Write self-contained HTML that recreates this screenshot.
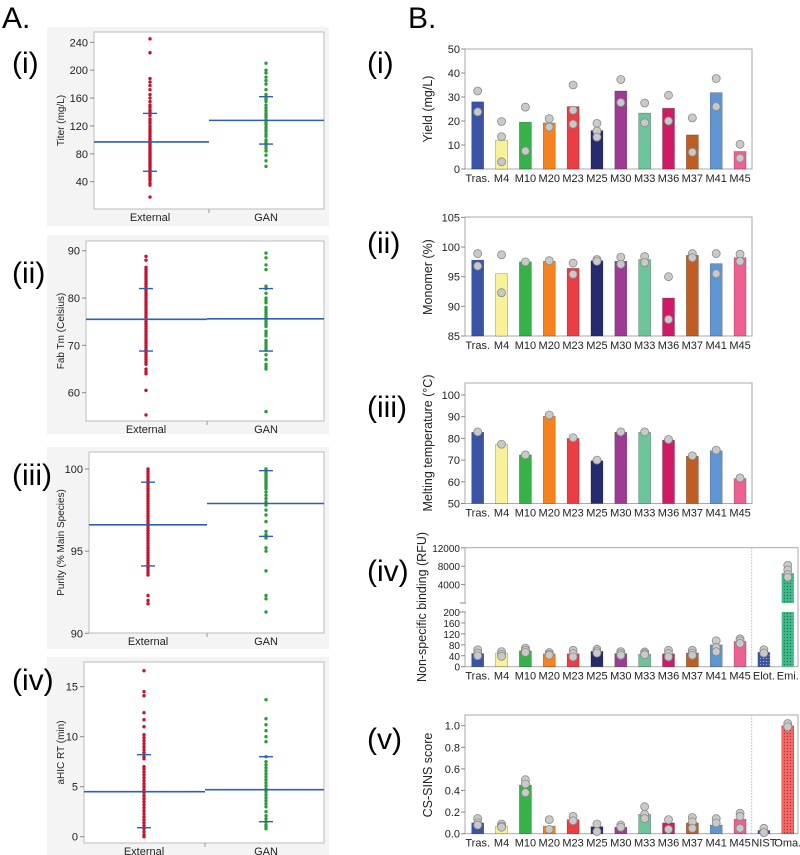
<!DOCTYPE html>
<html><head><meta charset="utf-8"><style>
body{margin:0;background:#fff}
svg{display:block;font-family:"Liberation Sans",sans-serif}
</style></head><body>
<svg id="fig" width="800" height="855" viewBox="0 0 800 855" xmlns="http://www.w3.org/2000/svg">
<defs>
<pattern id="dotB" width="3" height="3" patternUnits="userSpaceOnUse"><rect width="3" height="3" fill="#3a53a4"/><circle cx="1.5" cy="1.5" r="0.6" fill="#9fb0e0"/></pattern>
<pattern id="dotG" width="3" height="3" patternUnits="userSpaceOnUse"><rect width="3" height="3" fill="#3fb88a"/><circle cx="1.5" cy="1.5" r="0.6" fill="#1f6f50"/></pattern>
<pattern id="dotR" width="3" height="3" patternUnits="userSpaceOnUse"><rect width="3" height="3" fill="#f26868"/><circle cx="1.5" cy="1.5" r="0.6" fill="#b02a2a"/></pattern>
</defs>
<text x="2" y="28" font-size="30">A.</text>
<text x="408" y="28" font-size="30">B.</text>
<g id="left"></g><g id="right"></g>
</svg>
<script>
// ---------- Panel A data ----------
const groupsA = ["External","GAN"];
const titerExt = [245,225,188,183,178,172,165,160,155,150,147,143,140,138,135,130,127,124,120,117,114,111,108,105,102,100,98,96,94,92,90,88,86,84,82,80,78,76,74,72,70,68,66,64,62,60,58,56,54,52,50,48,46,44,42,38,35,18];
const titerGan = [210,200,196,190,185,180,172,165,160,158,155,150,146,142,138,135,132,128,125,122,118,115,112,108,105,100,97,95,92,88,84,78,70,62];
const titerStats = [[97,138,55],[128,162,94]];
const tmExt = [88.8,88,86.5,86,85.5,85,84.5,84,83.5,83,82.5,82,81.5,81,80.5,80,79.5,79,78.5,78,77.5,77,76.5,76,75.5,75,74.5,74,73.5,73,72.5,72,71.5,71,70.5,70,69.5,69,68.5,68,67.5,67,66.5,66,65,64.5,64,60.5,55.3];
const tmGan = [89.5,88.5,87,86,82.5,82,81,80,79.5,79,78,77.5,77,76.5,76,75.5,75,74.5,74,73,72.5,72,71,70.5,70,69.5,69,68,67,66,65.5,65,56];
const tmStats = [[75.5,82,68.8],[75.6,82,68.8]];
const purExt = [100,99.85,99.7,99.55,99.4,99.25,99.1,98.95,98.8,98.65,98.5,98.35,98.2,98.05,97.9,97.75,97.6,97.45,97.3,97.15,97,96.85,96.7,96.55,96.4,96.25,96.1,95.95,95.8,95.65,95.5,95.35,95.2,95.05,94.9,94.75,94.6,94.45,94.3,94.15,94,93.85,93.7,93.55,92.3,92,91.8];
const purGan = [100,99.9,99.8,99.7,99.6,99.5,99.4,99.3,99.2,99.1,99,98.9,98.8,98.6,98.4,98.2,98,97.8,97.5,97.2,96.8,96.2,96,95.9,95.8,95.2,95,93.8,92.3,92.1,91.3];
const purStats = [[96.6,99.2,94.1],[97.9,99.9,95.9]];
const rtExt = [16.6,14.5,14.1,12.4,11.7,11,10.2,9.9,9.6,9.3,9,8.7,8.4,8,7.8,7,6.8,6.5,6.2,5.9,5.6,5.3,5,4.7,4.4,4.1,3.8,3.5,3.2,2.9,2.6,2.3,2,1.7,1.4,1.1,0.8,0.5,0.2,0];
const rtGan = [13.7,11.8,11.2,10.6,10,9.5,8,7.5,7.2,6.9,6.6,6.3,6,5.7,5.4,5.1,4.8,4.5,4.2,3.9,3.6,3.3,3,2.5,2.1,1.8,1.5,1.2,1,0.8];
const rtStats = [[4.5,8.2,0.9],[4.7,8,1.5]];
const titerTicks = [40,80,120,160,200,240];
const tmTicks = [60,70,80,90];
const purTicks = [90,95,100];
const rtTicks = [0,5,10,15];

// ---------- Panel B data ----------
const catsB = ["Tras.","M4","M10","M20","M23","M25","M30","M33","M36","M37","M41","M45"];
const catsNSB = ["Tras.","M4","M10","M20","M23","M25","M30","M33","M36","M37","M41","M45","Elot.","Emi."];
const catsCS = ["Tras.","M4","M10","M20","M23","M25","M30","M33","M36","M37","M41","M45","NIST","Oma."];
const yieldBars = [28,12,19.5,19.2,26,16,32.5,23.3,25.3,14.2,31.8,7.3];
const yieldPts = [[32.5,23.8],[19.8,13.5,3],[25.8,7.5],[21,17.5],[35,24.5,18.7],[19,15.8,13.3],[37.3,27.7],[27.5,19.3],[30.7,20],[21.3,7],[37.7,26],[10.3,4.5]];
const monoBars = [97.8,95.5,97.5,97.6,96.4,97.7,97.6,97.9,91.4,98.6,97.2,98.2];
const monoPts = [[98.9,96.8],[98.7,92.3],[97.5],[97.7],[97.3,95.4],[97.9,97.6],[98.3,97.1],[98.4,97.4],[95,87.8],[98.9,98.2],[98.9,95.5],[98.8,97.6]];
const tmBars = [82.8,77.3,72.4,90.2,80,69.7,82.8,82.8,79.2,71.8,74.3,61.5];
const tmPts = [[83],[77.3],[72.4],[90.8],[80.3],[70],[83],[83],[79.5],[72],[74.6],[61.8]];
const nsbBars = [48,50,58,47,47,56,48,46,47,50,80,92,53,6500];
const nsbPts = [[62,50,40],[55,45,38],[68,60,52],[52,46,42],[60,48,36],[64,56,50],[55,48,42],[54,48,44],[60,48,36],[60,50,42],[95,70,55],[102,95,85],[62,50],[8200,7200,6200,5600]];
const csBars = [0.1,0.07,0.45,0.07,0.13,0.065,0.06,0.18,0.1,0.1,0.08,0.135,0.03,1.0];
const csPts = [[0.14,0.1,0.08],[0.09,0.07,0.06],[0.5,0.46,0.38],[0.13,0.04],[0.16,0.12],[0.09,0.02],[0.08,0.06],[0.25,0.18,0.14],[0.13,0.04],[0.15,0.11,0.05],[0.14,0.1],[0.19,0.16,0.05],[0.05,0.01],[1.02,0.99]];
const monoTicks = [85,90,95,100,105];
const yieldTicks = [0,10,20,30,40,50];
const meltTicks = [50,60,70,80,90,100];
const nsbLowTicks = [0,40,80,120,160,200];
const nsbHighTicks = [4000,8000,12000];
const csTicks = [0.0,0.2,0.4,0.6,0.8,1.0];

const colorsB = ["#3a53a4","#f8f19a","#37b14a","#f5821f","#ec3d44","#262b6e","#9d3a94","#6dc49b","#cf1b65","#bf5e23","#5f95d2","#ee5f92","url(#dotB)","url(#dotG)"];
const NS="http://www.w3.org/2000/svg";
function mk(tag, attrs, parent, txt){const e=document.createElementNS(NS,tag);for(const k in attrs)e.setAttribute(k,attrs[k]);if(txt!==undefined)e.textContent=txt;parent.appendChild(e);return e;}

// ---------- Panel A drawing ----------
const L=document.getElementById('left');
function scatterPanel(o){
  const g=mk('g',{},L);
  
  
  const bg=mk('rect',{x:47,y:o.bgTop,width:282,height:o.bgH,fill:'#f4f4f4'},g);
  
  
  const box=mk('rect',{x:o.x0,y:o.y0,width:324-o.x0,height:o.y1-o.y0,fill:'#fff',stroke:'#bbb','stroke-width':1},g);
  
  
  const y=v=>o.p0+(v-o.v0)*(o.p1-o.p0)/(o.v1-o.v0);
  const num=mk('text',{x:12,y:o.numY+10,'font-size':30},g,o.num);
  
  
  o.ticks.forEach(t=>{
    mk('line',{x1:o.x0-4,x2:o.x0,y1:y(t),y2:y(t),stroke:'#888'},g);
    const tl=mk('text',{x:o.x0-6,y:y(t)+4,'font-size':11,'text-anchor':'end',fill:'#222'},g,t);
    
    
  });
  const at=mk('text',{transform:`translate(64,${(o.y0+o.y1)/2}) rotate(-90)`,'font-size':10,'text-anchor':'middle',fill:'#222'},g,o.title);
  
  
  mk('line',{x1:o.div,x2:o.div,y1:o.y1,y2:o.y1+4,stroke:'#999'},g);
  const xs=[o.ex,266];
  groupsA.forEach((gname,i)=>{
    const xl=mk('text',{x:xs[i],y:o.y1+12,'font-size':11,'text-anchor':'middle',fill:'#222'},g,gname);
    
    
  });
  const series=[o.ext,o.gan], cols=['#c4122f','#2a9d3a'];
  series.forEach((arr,i)=>{
    arr.forEach(v=>{
      const c=mk('circle',{cx:xs[i],cy:y(v),r:1.7,fill:cols[i]},g);
      
      
    });
    const st=o.stats[i];
    const xa=i===0?o.x0:o.div, xb=i===0?o.div:324;
    const ml=mk('line',{x1:xa,x2:xb,y1:y(st[0]),y2:y(st[0]),stroke:'#2d5fb3','stroke-width':1.6},g);
    
    
    [st[1],st[2]].forEach(q=>{
      const ql=mk('line',{x1:xs[i]-7,x2:xs[i]+7,y1:y(q),y2:y(q),stroke:'#2d5fb3','stroke-width':1.4},g);
      
      
    });
  });
}
scatterPanel({name:'titer-panel',num:'(i)',numY:63,bgTop:27,bgH:199,x0:94,y0:32,y1:209,v0:40,p0:181.7,v1:240,p1:42.3,ticks:titerTicks,title:'Titer (mg/L)',div:209,ex:150,ext:titerExt,gan:titerGan,stats:titerStats});
scatterPanel({name:'tm-panel',num:'(ii)',numY:273,bgTop:235,bgH:199,x0:86,y0:241,y1:421,v0:60,p0:392.7,v1:90,p1:250.7,ticks:tmTicks,title:'Fab Tm (Celsius)',div:207,ex:146,ext:tmExt,gan:tmGan,stats:tmStats});
scatterPanel({name:'purity-panel',num:'(iii)',numY:475,bgTop:447,bgH:202,x0:89,y0:452,y1:633,v0:90,p0:633.3,v1:100,p1:469,ticks:purTicks,title:'Purity (% Main Species)',div:207,ex:148,ext:purExt,gan:purGan,stats:purStats});
scatterPanel({name:'ahic-panel',num:'(iv)',numY:680,bgTop:657,bgH:198,x0:84,y0:662,y1:843,v0:0,p0:836.7,v1:15,p1:686.7,ticks:rtTicks,title:'aHIC RT (min)',div:205,ex:144,ext:rtExt,gan:rtGan,stats:rtStats});

// ---------- Panel B drawing ----------
const R=document.getElementById('right');
const bx=i=>477.7+i*23.85;
function barPanel(o){
  const g=mk('g',{},R);
  
  
  const num=mk('text',{x:367,y:o.numY+10,'font-size':30},g,o.num);
  
  
  const box=mk('rect',{x:465,y:o.top,width:o.right-465,height:o.bottom-o.top,fill:'none',stroke:'#aaa'},g);
  
  
  const at=mk('text',{transform:`translate(${o.titleX},${o.titleY}) rotate(-90)`,'font-size':12.5,'text-anchor':'middle',fill:'#222'},g,o.title);
  
  
  o.ticks.forEach(t=>{
    mk('line',{x1:461,x2:465,y1:o.y(t),y2:o.y(t),stroke:'#888'},g);
    const tl=mk('text',{x:460,y:o.y(t)+4,'font-size':o.tfs||11,'text-anchor':'end',fill:'#222'},g,o.fmt?o.fmt(t):t);
    
    
  });
  if(o.sep){const s=mk('line',{x1:o.sep,x2:o.sep,y1:o.top,y2:o.bottom,stroke:'#bbb','stroke-dasharray':'1.5,1.5'},g);
    
    }
  o.cats.forEach((c,i)=>{
    const x=bx(i);
    const fill=o.fills?o.fills[i]:colorsB[i];
    o.drawBar(g,x,o.bars[i],fill,i);
    o.pts[i].forEach(v=>{
      const p=mk('circle',{cx:x,cy:o.y(v),r:4,fill:'#c9c9c9',stroke:'#8a8a8a','stroke-width':0.8},g);
      
      
    });
    const xl=mk('text',{x:x,y:o.bottom+13,'font-size':11,'text-anchor':'middle',fill:'#222'},g,c);
    
    
  });
}
function simpleBar(y,base){return (g,x,v,fill)=>{
  const r=mk('rect',{x:x-6,y:y(v),width:12,height:base-y(v),fill:fill,stroke:'rgba(0,0,0,0.35)','stroke-width':0.6},g);
  
  
};}
const yY=v=>169-v*2.4;
barPanel({name:'yield-panel',num:'(i)',numY:63,top:49,bottom:169,right:752,y:yY,ticks:yieldTicks,title:'Yield (mg/L)',titleX:432,titleY:109,cats:catsB,bars:yieldBars,pts:yieldPts,drawBar:simpleBar(yY,169)});
const yM=v=>336-(v-85)*5.93;
barPanel({name:'monomer-panel',num:'(ii)',numY:243,top:217,bottom:336,right:752,y:yM,ticks:monoTicks,title:'Monomer (%)',titleX:432,titleY:277,cats:catsB,bars:monoBars,pts:monoPts,drawBar:simpleBar(yM,336)});
const yT=v=>503.5-(v-50)*2.17;
barPanel({name:'melting-panel',num:'(iii)',numY:407,top:383,bottom:503.5,right:752,y:yT,ticks:meltTicks,title:'Melting temperature (°C)',titleX:432,titleY:443,cats:catsB,bars:tmBars,pts:tmPts,drawBar:simpleBar(yT,503.5)});
const yN=v=> v<=200 ? 666.7-v*0.2735 : 603-v*0.0046;
barPanel({name:'nsb-panel',num:'(iv)',numY:571,top:547.7,bottom:666.7,right:798,y:yN,ticks:nsbLowTicks.concat(nsbHighTicks),tfs:10,title:'Non-specific binding (RFU)',titleX:426,titleY:607,cats:catsNSB,bars:nsbBars,pts:nsbPts,sep:751.7,
  drawBar:(g,x,v,fill)=>{
    if(v<=200){simpleBar(yN,666.7)(g,x,v,fill);}
    else{
      const a=mk('rect',{x:x-6,y:612,width:12,height:54.7,fill:fill},g);
      
      
      const b=mk('rect',{x:x-6,y:yN(v),width:12,height:603-yN(v),fill:fill},g);
      
      
    }
  }});
mk('rect',{x:462,y:603,width:6,height:9,fill:'#fff'},R);
mk('line',{x1:460,x2:466,y1:603,y2:603,stroke:'#888'},R);
mk('line',{x1:460,x2:466,y1:612,y2:612,stroke:'#888'},R);
const yC=v=>833.7-v*108;
const csFills=colorsB.slice(0,12).concat(['#3a53a4','url(#dotR)']);
barPanel({name:'cssins-panel',num:'(v)',numY:739,top:715,bottom:833.7,right:798,y:yC,ticks:csTicks,fmt:t=>t.toFixed(1),title:'CS-SINS score',titleX:432,titleY:775,cats:catsCS,bars:csBars,pts:csPts,fills:csFills,sep:751.7,drawBar:simpleBar(yC,833.7)});
</script>
</body></html>
